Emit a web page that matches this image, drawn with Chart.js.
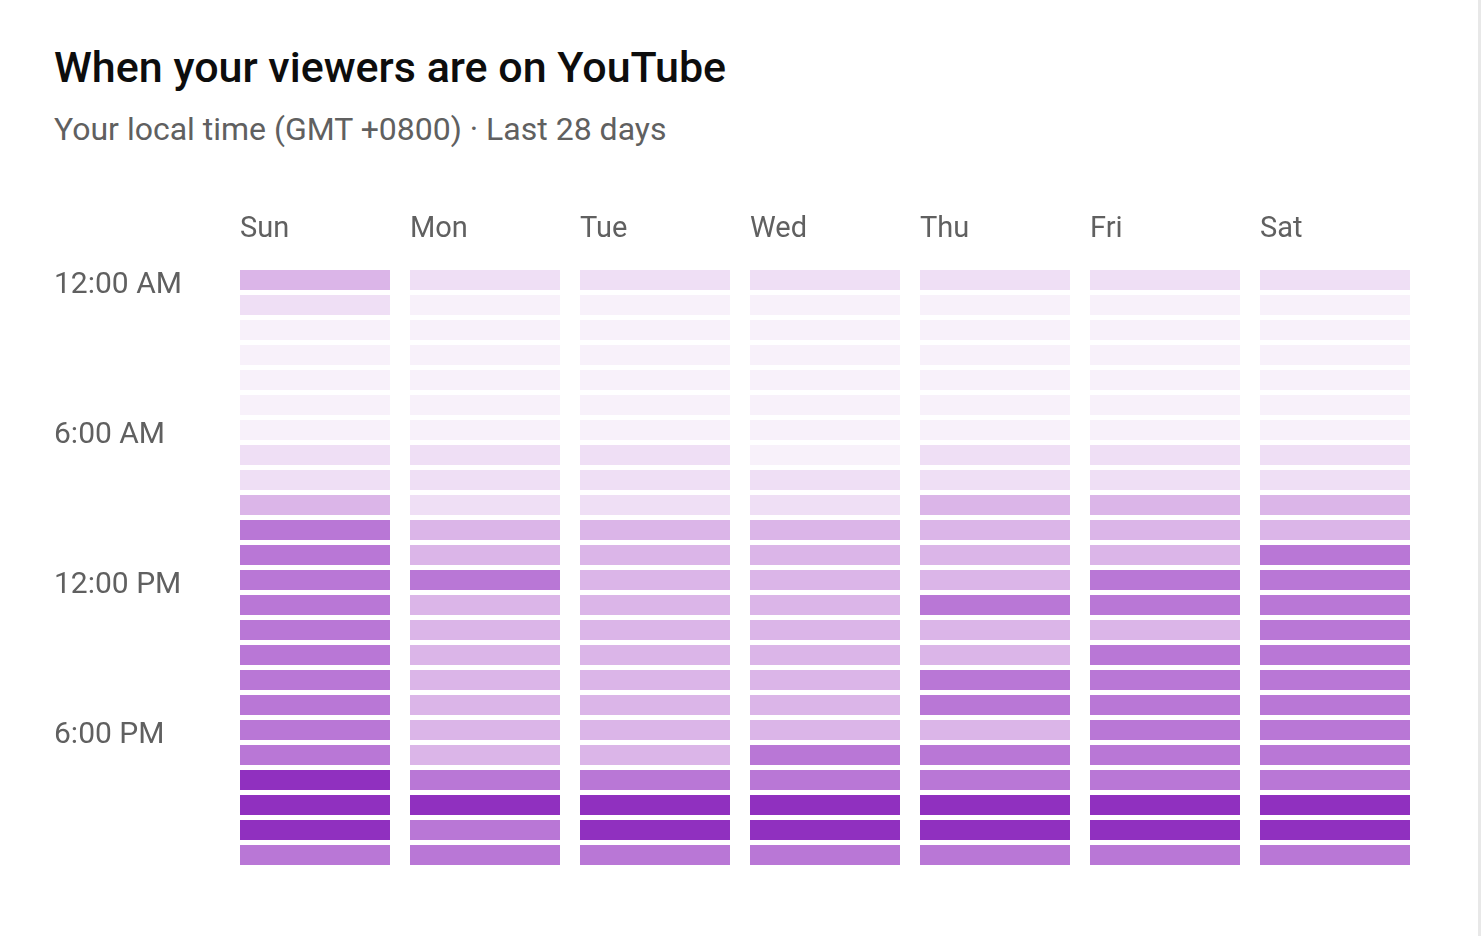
<!DOCTYPE html>
<html><head><meta charset="utf-8">
<script src="https://cdn.jsdelivr.net/npm/chart.js@4"></script>
<style>
body{margin:0;background:#fff;font-family:Roboto,sans-serif;}
#wrap{position:relative;width:1481px;height:936px;border-right:3px solid #e8e8e8;box-sizing:border-box;}
h1{position:absolute;left:54px;top:42px;margin:0;font-size:43px;font-weight:500;color:#0d0d0d;}
#sub{position:absolute;left:54px;top:110px;font-size:32px;color:#606060;}
canvas{position:absolute;left:0;top:0;}
</style></head><body>
<div id="wrap">
<h1>When your viewers are on YouTube</h1>
<div id="sub">Your local time (GMT +0800) · Last 28 days</div>
<canvas id="c" width="1478" height="936"></canvas>
</div>
<script>
const days = ["Sun", "Mon", "Tue", "Wed", "Thu", "Fri", "Sat"];
const hourLabels = ["12:00 AM", "6:00 AM", "12:00 PM", "6:00 PM"];
const hourLabelRows = [0, 6, 12, 18];
// activity level 0-4 per hour (0..23) for each day
const sun = [2,1,0,0,0,0,0,1,1,2,3,3,3,3,3,3,3,3,3,3,4,4,4,3];
const mon = [1,0,0,0,0,0,0,1,1,1,2,2,3,2,2,2,2,2,2,2,3,4,3,3];
const tue = [1,0,0,0,0,0,0,1,1,1,2,2,2,2,2,2,2,2,2,2,3,4,4,3];
const wed = [1,0,0,0,0,0,0,0,1,1,2,2,2,2,2,2,2,2,2,3,3,4,4,3];
const thu = [1,0,0,0,0,0,0,1,1,2,2,2,2,3,2,2,3,3,2,3,3,4,4,3];
const fri = [1,0,0,0,0,0,0,1,1,2,2,2,3,3,2,3,3,3,3,3,3,4,4,3];
const sat = [1,0,0,0,0,0,0,1,1,2,2,3,3,3,3,3,3,3,3,3,3,4,4,3];
const levels = [sun, mon, tue, wed, thu, fri, sat];
const palette = ["#f8f1fa", "#efdff5", "#dbb5e8", "#b977d6", "#9030bf"];

const datasets = [];
for (let h = 0; h < 24; h++) {
  datasets.push({
    data: days.map(() => [h, h + 0.8]),
    backgroundColor: levels.map((d) => palette[d[h]]),
    grouped: false,
    barPercentage: 1,
    categoryPercentage: 150 / 170,
  });
}

const labelPlugin = {
  id: "labels",
  afterDraw(chart) {
    const ctx = chart.ctx;
    const x = chart.scales.x, y = chart.scales.y;
    ctx.save();
    ctx.fillStyle = "#606060";
    ctx.font = "29px Roboto";
    ctx.textBaseline = "middle";
    days.forEach((d, i) => ctx.fillText(d, x.getPixelForValue(i) - 75, 230));
    ctx.font = "30px Roboto";
    hourLabelRows.forEach((r, i) =>
      ctx.fillText(hourLabels[i], 54, y.getPixelForValue(r + 0.6)));
    ctx.restore();
  },
};

new Chart(document.getElementById("c"), {
  type: "bar",
  data: { labels: days, datasets },
  options: {
    responsive: false,
    animation: false,
    layout: { padding: { left: 230, top: 270, right: 58, bottom: 66 } },
    plugins: { legend: { display: false }, tooltip: { enabled: false } },
    scales: {
      x: { display: false },
      y: { display: false, min: 0, max: 24, reverse: true },
    },
  },
  plugins: [labelPlugin],
});
</script>
</body></html>
